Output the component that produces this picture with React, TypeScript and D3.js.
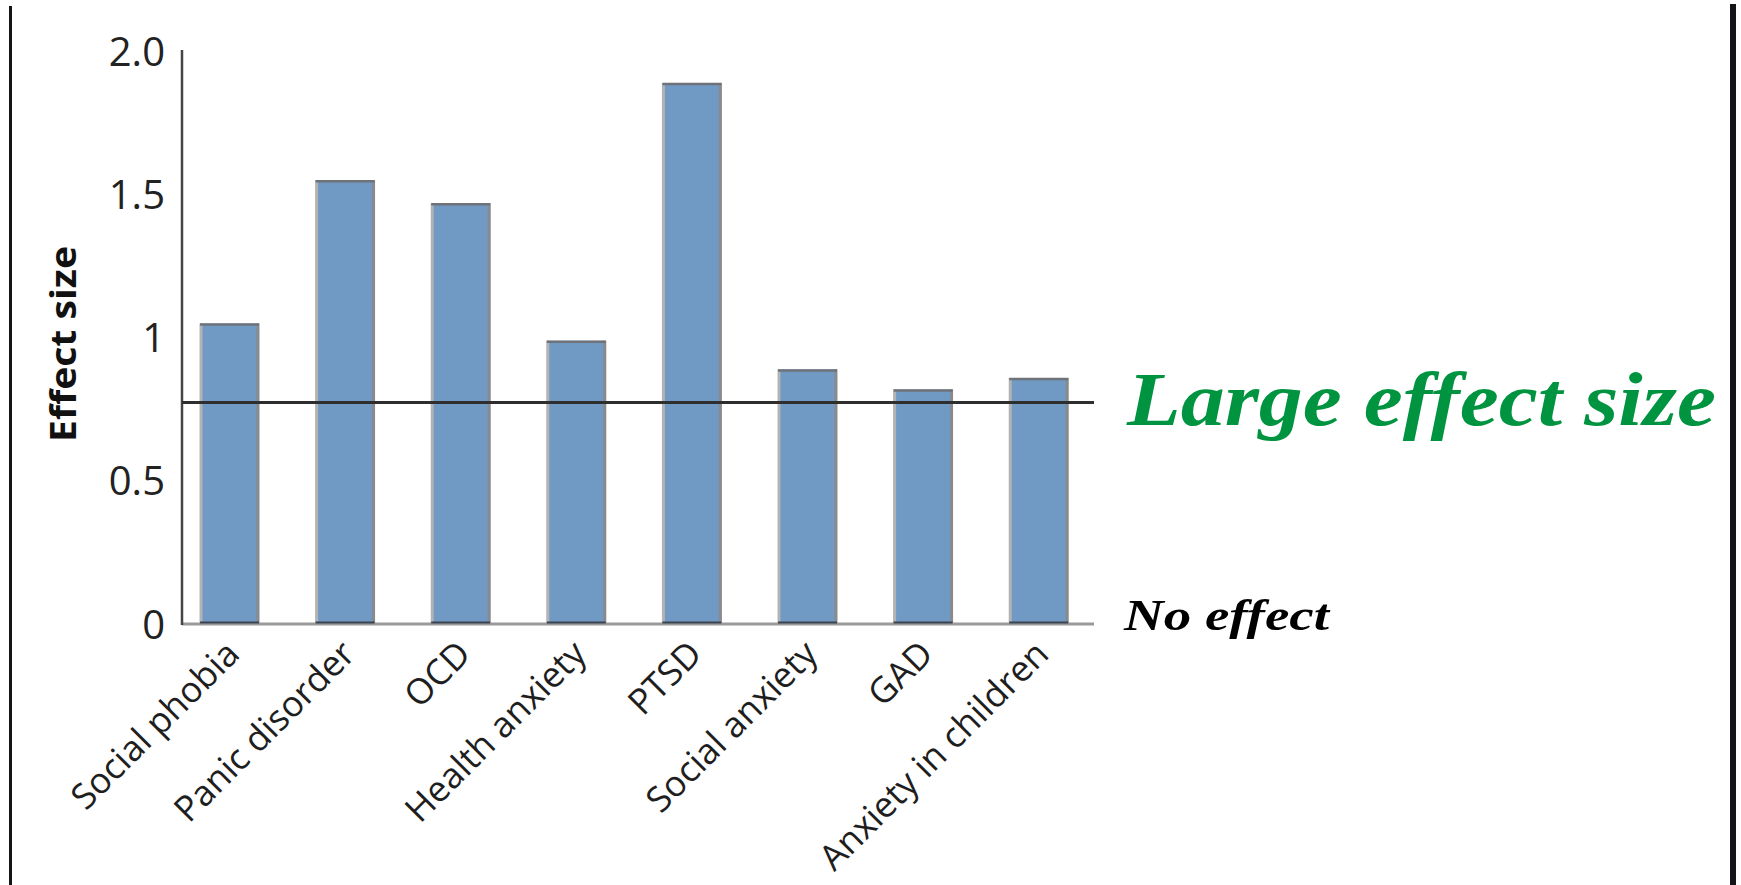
import React from "react";
import * as d3 from "d3";

const categories = [
  "Social phobia",
  "Panic disorder",
  "OCD",
  "Health anxiety",
  "PTSD",
  "Social anxiety",
  "GAD",
  "Anxiety in children",
];
const effectSizes = [1.045, 1.545, 1.465, 0.985, 1.885, 0.885, 0.815, 0.855];
const yTicks = [0, 0.5, 1, 1.5, 2.0];
const yTickLabels = ["0", "0.5", "1", "1.5", "2.0"];
const largeEffect = 0.77;
const largeLabel = "Large effect size";
const noEffectLabel = "No effect";
const yTitle = "Effect size";

const W = 1741;
const H = 885;

export default function App() {
  const y = d3.scaleLinear().domain([0, 2]).range([623, 50]);
  const x = d3
    .scaleBand<string>()
    .domain(categories)
    .range([171.7, 1096.5])
    .paddingInner(0.49)
    .paddingOuter(0.245);
  const bw = x.bandwidth();
  const axisLeft = 182;
  const axisRight = 1094;
  const sans = "'Open Sans', 'Noto Sans', sans-serif";

  return (
    <svg
      width={W}
      height={H}
      viewBox={`0 0 ${W} ${H}`}
      style={{ position: "absolute", left: 0, top: 0, background: "#fff" }}
    >
      <rect x={0} y={0} width={W} height={H} fill="#fff" />
      {/* frame lines */}
      <line x1={10.5} x2={10.5} y1={6} y2={H} stroke="#141419" strokeWidth={3} />
      <line x1={1733} x2={1733} y1={4} y2={H} stroke="#141419" strokeWidth={6} />

      {/* bars */}
      {categories.map((c, i) => {
        const bx = x(c)!;
        const by = y(effectSizes[i]);
        const bh = y(0) - by;
        return (
          <g key={c}>
            <rect x={bx} y={by} width={bw} height={bh} fill="#7099c3" />
            <line x1={bx + 1} x2={bx + 1} y1={by} y2={y(0)} stroke="#b3b3b3" strokeWidth={3} />
            <line x1={bx + bw - 1} x2={bx + bw - 1} y1={by} y2={y(0)} stroke="#888a8e" strokeWidth={3} />
            <line x1={bx} x2={bx + bw} y1={by + 1} y2={by + 1} stroke="#6f7379" strokeWidth={2.5} />
          </g>
        );
      })}

      {/* x axis */}
      <line x1={axisLeft} x2={axisRight} y1={y(0) + 1} y2={y(0) + 1} stroke="#9a9a9a" strokeWidth={3} />
      {categories.map((c) => (
        <line
          key={"b" + c}
          x1={x(c)!}
          x2={x(c)! + bw}
          y1={y(0) - 0.5}
          y2={y(0) - 0.5}
          stroke="#3b4350"
          strokeWidth={2}
        />
      ))}
      {/* y axis */}
      <line x1={axisLeft} x2={axisLeft} y1={y(2)} y2={y(0) + 2} stroke="#454545" strokeWidth={2.5} />

      {/* large effect line */}
      <line
        x1={axisLeft}
        x2={axisRight}
        y1={y(largeEffect)}
        y2={y(largeEffect)}
        stroke="#2e2e2e"
        strokeWidth={3}
      />

      {/* y tick labels */}
      {yTicks.map((t, i) => (
        <text
          key={t}
          x={165}
          y={y(t)}
          textAnchor="end"
          dominantBaseline="central"
          fontFamily={sans}
          fontSize={40}
          fill="#222"
        >
          {yTickLabels[i]}
        </text>
      ))}

      {/* y title */}
      <text
        transform={`translate(76, 344) rotate(-90)`}
        textAnchor="middle"
        fontFamily={sans}
        fontWeight={700}
        fontSize={36}
        fill="#111"
        textLength={196}
        lengthAdjust="spacingAndGlyphs"
      >
        {yTitle}
      </text>

      {/* x labels */}
      {categories.map((c) => {
        const cx = x(c)! + bw / 2 + 12;
        const cy = 656;
        return (
          <text
            key={"l" + c}
            transform={`translate(${cx}, ${cy}) rotate(-45)`}
            textAnchor="end"
            fontFamily={sans}
            fontSize={35.5}
            fill="#1e1e1e"
          >
            {c}
          </text>
        );
      })}

      {/* annotations */}
      <text
        x={1127}
        y={425}
        fontFamily="'Liberation Serif', serif"
        fontStyle="italic"
        fontWeight={700}
        fontSize={76}
        fill="#009440"
        textLength={589}
        lengthAdjust="spacingAndGlyphs"
      >
        {largeLabel}
      </text>
      <text
        x={1124}
        y={630}
        fontFamily="'Liberation Serif', serif"
        fontStyle="italic"
        fontWeight={700}
        fontSize={44}
        fill="#000"
        textLength={205}
        lengthAdjust="spacingAndGlyphs"
      >
        {noEffectLabel}
      </text>
    </svg>
  );
}
